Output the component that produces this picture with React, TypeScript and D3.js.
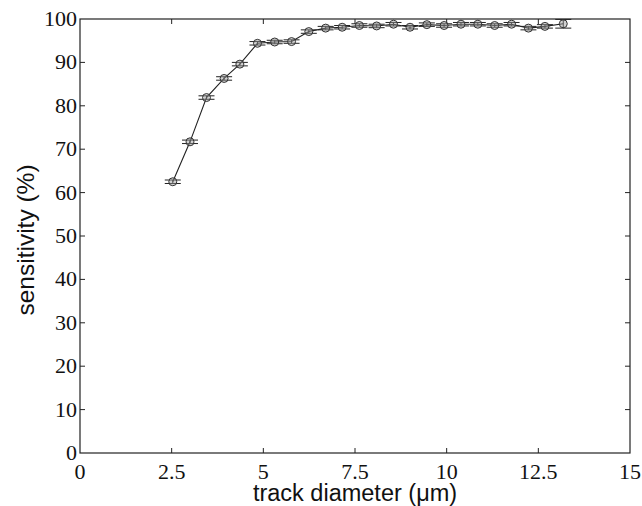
import * as d3 from "d3";
import { useEffect, useRef } from "react";

// track diameter (um) and sensitivity (%)
const diameters = [2.53, 3.0, 3.45, 3.93, 4.36, 4.84, 5.31, 5.77, 6.24, 6.7, 7.15, 7.62,
    8.09, 8.55, 9.0, 9.46, 9.93, 10.39, 10.85, 11.31, 11.77, 12.23, 12.68, 13.18];
const sensitivity = [62.5, 71.7, 81.9, 86.3, 89.6, 94.4, 94.7, 94.8, 97.1, 97.9, 98.1, 98.5,
    98.4, 98.8, 98.1, 98.7, 98.5, 98.8, 98.8, 98.5, 98.8, 97.9, 98.3, 98.9];
const errors = [0.4, 0.4, 0.4, 0.4, 0.4, 0.4, 0.4, 0.4, 0.4, 0.4, 0.4, 0.4,
    0.4, 0.4, 0.4, 0.4, 0.4, 0.4, 0.4, 0.4, 0.4, 0.4, 0.4, 1.0];
const xTicks = [0, 2.5, 5, 7.5, 10, 12.5, 15];
const yTicks = [0, 10, 20, 30, 40, 50, 60, 70, 80, 90, 100];

export default function App() {
    const svgRef = useRef<SVGSVGElement>(null);
    const width = 642;
    const height = 506;
    const left = 80, right = 630, top = 19, bottom = 453;

    useEffect(() => {
        const svg = d3.select(svgRef.current);
        svg.selectAll("*").remove();

        const x = d3.scaleLinear().domain([0, 15]).range([left, right]);
        const y = d3.scaleLinear().domain([0, 100]).range([bottom, top]);

        svg.append("rect")
            .attr("width", width).attr("height", height).attr("fill", "white");

        // frame
        svg.append("rect")
            .attr("x", left).attr("y", top)
            .attr("width", right - left).attr("height", bottom - top)
            .attr("fill", "none").attr("stroke", "#222").attr("stroke-width", 1.2);

        const tickLen = 5;
        const ticks = svg.append("g").attr("stroke", "#222").attr("stroke-width", 1);
        xTicks.slice(1, -1).forEach(t => {
            ticks.append("line").attr("x1", x(t)).attr("x2", x(t)).attr("y1", bottom).attr("y2", bottom - tickLen);
            ticks.append("line").attr("x1", x(t)).attr("x2", x(t)).attr("y1", top).attr("y2", top + tickLen);
        });
        yTicks.slice(1, -1).forEach(t => {
            ticks.append("line").attr("x1", left).attr("x2", left + tickLen).attr("y1", y(t)).attr("y2", y(t));
            ticks.append("line").attr("x1", right).attr("x2", right - tickLen).attr("y1", y(t)).attr("y2", y(t));
        });

        svg.append("g")
            .selectAll("text")
            .data(xTicks)
            .join("text")
            .attr("x", d => x(d))
            .attr("y", 479)
            .attr("text-anchor", "middle")
            .attr("font-family", "Liberation Serif, Times New Roman, serif")
            .attr("font-size", 22)
            .attr("fill", "#111")
            .text(d => d);

        svg.append("g")
            .selectAll("text")
            .data(yTicks)
            .join("text")
            .attr("x", 77)
            .attr("y", d => y(d) + 7)
            .attr("text-anchor", "end")
            .attr("font-family", "Liberation Serif, Times New Roman, serif")
            .attr("font-size", 22)
            .attr("fill", "#111")
            .text(d => d);

        svg.append("text")
            .attr("x", (left + right) / 2)
            .attr("y", 501)
            .attr("text-anchor", "middle")
            .attr("font-family", "Liberation Sans, Arial, sans-serif")
            .attr("font-size", 23.5)
            .attr("fill", "#111")
            .text("track diameter (\u03bcm)");

        svg.append("text")
            .attr("transform", `translate(34, 240) rotate(-90)`)
            .attr("text-anchor", "middle")
            .attr("font-family", "Liberation Sans, Arial, sans-serif")
            .attr("font-size", 24.5)
            .attr("fill", "#111")
            .text("sensitivity (%)");

        const points = diameters.map((d, i) => [d, sensitivity[i], errors[i]]);

        const line = d3.line<number[]>()
            .x(p => x(p[0]))
            .y(p => y(p[1]));

        svg.append("path")
            .attr("d", line(points))
            .attr("fill", "none")
            .attr("stroke", "#222")
            .attr("stroke-width", 1.1);

        const capHalf = 8;
        const bars = svg.append("g").attr("stroke", "#222").attr("stroke-width", 1);
        points.forEach(p => {
            const cx = x(p[0]);
            bars.append("line").attr("x1", cx).attr("x2", cx).attr("y1", y(p[1] + p[2])).attr("y2", y(p[1] - p[2]));
            [p[1] + p[2], p[1] - p[2]].forEach(v => {
                bars.append("line")
                    .attr("x1", cx - capHalf).attr("x2", cx + capHalf)
                    .attr("y1", y(v)).attr("y2", y(v));
            });
        });

        svg.append("g")
            .selectAll("circle")
            .data(points)
            .join("circle")
            .attr("cx", p => x(p[0]))
            .attr("cy", p => y(p[1]))
            .attr("r", 4)
            .attr("fill", "#999")
            .attr("fill-opacity", 0.45)
            .attr("stroke", "#333")
            .attr("stroke-width", 1);
    }, []);

    return <svg ref={svgRef} width={width} height={height}
        style={{ position: "absolute", left: 0, top: 0 }} />;
}
